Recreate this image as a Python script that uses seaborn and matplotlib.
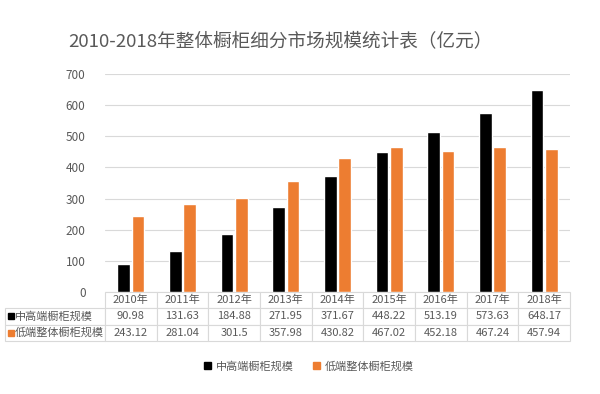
import pandas as pd
import seaborn as sns
import matplotlib.pyplot as plt
from matplotlib.patches import Rectangle

years = ["2010年", "2011年", "2012年", "2013年", "2014年", "2015年", "2016年", "2017年", "2018年"]
high_end = [90.98, 131.63, 184.88, 271.95, 371.67, 448.22, 513.19, 573.63, 648.17]
low_end = [243.12, 281.04, 301.5, 357.98, 430.82, 467.02, 452.18, 467.24, 457.94]
series = ["中高端橱柜规模", "低端整体橱柜规模"]
colors = ["#000000", "#ED7D31"]

sns.set_style("white")
plt.rcParams['font.family'] = ['Noto Sans CJK SC', 'DejaVu Sans']
grey = "#595959"

df = pd.DataFrame({
    "年份": years * 2,
    "规模": high_end + low_end,
    "类别": [series[0]] * len(years) + [series[1]] * len(years),
})

fig = plt.figure(figsize=(6, 3.94), dpi=100)
ax = fig.add_axes([0.175, 0.259, 0.775, 0.553])
sns.barplot(data=df, x="年份", y="规模", hue="类别", palette=colors,
            width=0.56, gap=0.12, ax=ax, legend=False, saturation=1)

ax.set_ylim(0, 700)
ax.set_yticks(range(0, 701, 100))
ax.tick_params(axis="y", labelsize=8.5, labelcolor=grey, length=0, pad=14)
ax.set_xticks([])
ax.set_xlabel("")
ax.set_ylabel("")
ax.grid(axis="y", color="#d9d9d9", linewidth=0.8)
ax.set_axisbelow(True)
for s in ["top", "right", "left", "bottom"]:
    ax.spines[s].set_visible(False)

# data table under the bars
cell_text = [[""] + years,
             [series[0]] + [f"{v:g}" for v in high_end],
             [series[1]] + [f"{v:g}" for v in low_end]]
ax_w, ax_h = 465, 218
lab_w = 100 / ax_w
tbl_h = 49 / ax_h
col_w = 1.0 / len(years)
tbl = ax.table(cellText=cell_text, cellLoc="center",
               colWidths=[lab_w] + [col_w] * len(years),
               bbox=[-lab_w, -tbl_h, 1 + lab_w, tbl_h])
tbl.auto_set_font_size(False)
for (r, c), cell in tbl.get_celld().items():
    cell.set_edgecolor("#d9d9d9")
    cell.set_linewidth(0.8)
    cell.get_text().set_color(grey)
    cell.get_text().set_fontsize(8)
    if c == 0:
        cell._loc = "left"
        cell.get_text().set_ha("left")
        cell.PAD = 0.1
    if r == 0 and c == 0:
        cell.set_edgecolor("white")

# colored markers in row labels
row_h = tbl_h / 3
for i, col in enumerate(colors):
    yc = -row_h * (i + 1.5)
    ax.add_patch(Rectangle((-lab_w + 2.5 / ax_w, yc - 3 / ax_h), 6 / ax_w, 6 / ax_h,
                           color=col, transform=ax.transAxes, clip_on=False))

handles = [Rectangle((0, 0), 1, 1, color=c) for c in colors]
fig.legend(handles, series, loc="center", bbox_to_anchor=(0.515, 0.071), ncol=2,
           frameon=False, fontsize=8, handlelength=0.6, handleheight=0.6,
           columnspacing=1.8, handletextpad=0.4, labelcolor=grey)

fig.suptitle("2010-2018年整体橱柜细分市场规模统计表（亿元）", x=0.468, y=0.918,
             fontsize=13.4, color=grey)

plt.savefig("out.png", dpi=100)
